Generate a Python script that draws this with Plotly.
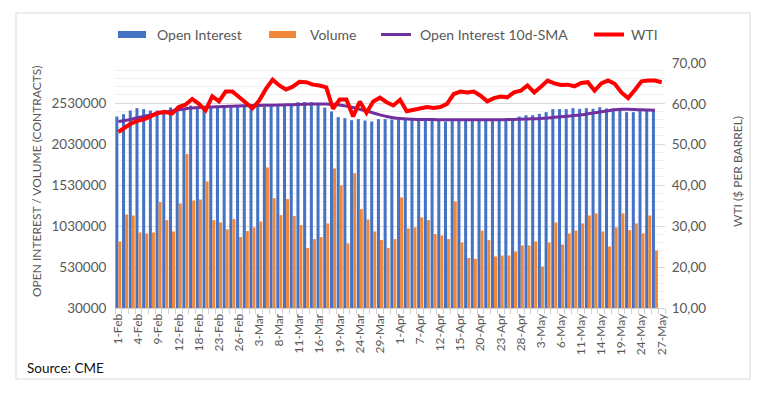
import plotly.graph_objects as go

# ---------------- data ----------------
dates = [
    "1-Feb", "2-Feb", "3-Feb", "4-Feb", "5-Feb", "8-Feb", "9-Feb", "10-Feb", "11-Feb", "12-Feb",
    "16-Feb", "17-Feb", "18-Feb", "19-Feb", "22-Feb", "23-Feb", "24-Feb", "25-Feb", "26-Feb",
    "1-Mar", "2-Mar", "3-Mar", "4-Mar", "5-Mar", "8-Mar", "9-Mar", "10-Mar", "11-Mar", "12-Mar",
    "15-Mar", "16-Mar", "17-Mar", "18-Mar", "19-Mar", "22-Mar", "23-Mar", "24-Mar", "25-Mar",
    "26-Mar", "29-Mar", "30-Mar", "31-Mar",
    "1-Apr", "5-Apr", "6-Apr", "7-Apr", "8-Apr", "9-Apr", "12-Apr", "13-Apr", "14-Apr", "15-Apr",
    "16-Apr", "19-Apr", "20-Apr", "21-Apr", "22-Apr", "23-Apr", "26-Apr", "27-Apr", "28-Apr",
    "29-Apr", "30-Apr",
    "3-May", "4-May", "5-May", "6-May", "7-May", "10-May", "11-May", "12-May", "13-May", "14-May",
    "17-May", "18-May", "19-May", "20-May", "21-May", "24-May", "25-May", "26-May", "27-May",
]

open_interest = [
    2367000, 2396000, 2440000, 2469000, 2457000, 2440000, 2440000, 2448000, 2476000, 2460000,
    2470000, 2501000, 2478000, 2470000, 2482000, 2478000, 2485000, 2480000, 2485000,
    2488000, 2484000, 2492000, 2488000, 2492000, 2496000, 2500000, 2505000, 2542000, 2544000,
    2542000, 2532000, 2476000, 2428000, 2360000, 2347000, 2322000, 2335000, 2318000,
    2306000, 2335000, 2335000, 2330000,
    2326000, 2326000, 2326000, 2326000, 2326000, 2326000, 2318000, 2306000, 2326000, 2326000,
    2326000, 2326000, 2326000, 2326000, 2326000, 2330000, 2335000, 2345000, 2367000,
    2383000, 2383000,
    2399000, 2420000, 2457000, 2457000, 2457000, 2469000, 2460000, 2469000, 2462000, 2481000,
    2465000, 2465000, 2465000, 2420000, 2420000, 2440000, 2440000, 2440000,
]

volume = [
    842000, 1171000, 1159000, 952000, 940000, 952000, 1323000, 1103000, 964000, 1306000,
    1908000, 1342000, 1354000, 1574000, 1103000, 1074000, 989000, 1115000, 896000,
    969000, 1013000, 1086000, 1745000, 1371000, 1164000, 1359000, 1152000, 1042000, 762000,
    871000, 896000, 1062000, 1732000, 1525000, 818000, 1676000, 1237000, 1110000,
    964000, 859000, 762000, 871000,
    1379000, 1001000, 1013000, 1135000, 1103000, 932000, 915000, 871000, 1330000, 830000,
    640000, 628000, 976000, 859000, 659000, 671000, 671000, 720000, 793000,
    793000, 842000,
    537000, 830000, 1074000, 805000, 940000, 976000, 1062000, 1159000, 1184000, 964000,
    781000, 1013000, 1184000, 981000, 1062000, 940000, 1159000, 732000,
]

oi_sma = [
    2306000, 2318000, 2335000, 2355000, 2372000, 2390000, 2405000, 2420000, 2435000, 2450000,
    2462000, 2470000, 2476000, 2480000, 2484000, 2487000, 2490000, 2493000, 2496000,
    2498000, 2500000, 2502000, 2504000, 2505000, 2507000, 2509000, 2512000, 2515000, 2518000,
    2520000, 2521000, 2520000, 2516000, 2508000, 2494000, 2476000, 2456000, 2436000,
    2410000, 2387000, 2368000, 2352000,
    2342000, 2336000, 2333000, 2331000, 2330000, 2329000, 2328000, 2328000, 2328000, 2328000,
    2327000, 2327000, 2327000, 2327000, 2327000, 2328000, 2329000, 2331000, 2334000,
    2337000, 2340000,
    2344000, 2350000, 2357000, 2364000, 2371000, 2378000, 2388000, 2400000, 2412000, 2425000,
    2438000, 2450000, 2456000, 2456000, 2452000, 2448000, 2445000, 2444000,
]

wti = [
    53.1, 54.3, 55.3, 55.9, 56.3, 57.1, 57.8, 58.0, 57.6, 59.2,
    59.8, 61.2, 60.0, 58.4, 61.85, 60.6, 63.0, 63.0, 61.6,
    60.15, 58.9, 60.8, 63.65, 65.9, 64.5, 63.5, 64.2, 65.4, 65.3,
    64.7, 64.5, 64.05, 58.8, 61.05, 61.05, 56.9, 60.55, 57.8,
    60.55, 61.5, 60.4, 59.6,
    61.0, 58.2, 58.6, 58.9, 59.2, 59.0, 59.2, 60.0, 62.4, 63.0,
    62.8, 63.0, 62.0, 60.6, 61.4, 61.8, 61.6, 62.8, 63.2,
    64.5, 62.8,
    64.2, 65.7, 65.0, 64.6, 64.7, 64.3, 65.1, 65.3, 63.2, 65.0,
    65.7, 64.9, 62.8, 61.4, 63.4, 65.5, 65.7, 65.7, 65.3,
]

left_ticks = [30000, 530000, 1030000, 1530000, 2030000, 2530000]
right_ticks = [10, 20, 30, 40, 50, 60, 70]
right_tick_text = ["10,00", "20,00", "30,00", "40,00", "50,00", "60,00", "70,00"]

# ---------------- layout helpers ----------------
# the page body has an 8px margin, so the figure is drawn 8px in from the window corner
OFF = 8
W, H = 767 - OFF, 394 - OFF
L, R, T, B = 115 - OFF, W - (665 - OFF), 63 - OFF, H - (308 - OFF)
PW, PH = W - L - R, H - T - B
FONT = "Lato"
GREY = "#595959"
CLEAR = "rgba(0,0,0,0)"


def xp(px):
    """window pixel x -> paper x"""
    return (px - OFF - L) / PW


def yp(py):
    """window pixel y -> paper y"""
    return (H - B - (py - OFF)) / PH


fig = go.Figure()
fig.add_trace(go.Bar(x=dates[:len(open_interest)], y=open_interest, name="Open Interest",
                     marker=dict(color="#4472C4", line=dict(width=0))))
fig.add_trace(go.Bar(x=dates[:len(volume)], y=volume, name="Volume",
                     marker=dict(color="#F0883A", line=dict(width=0))))
fig.add_trace(go.Scatter(x=dates[:len(oi_sma)], y=oi_sma, mode="lines",
                         name="Open Interest 10d-SMA",
                         line=dict(color="#7030A0", width=3, shape="spline")))
fig.add_trace(go.Scatter(x=dates, y=wti, mode="lines", name="WTI", yaxis="y2",
                         line=dict(color="#FF0000", width=4)))

ticktext = [d if i % 3 == 0 else "" for i, d in enumerate(dates)]

fig.update_layout(
    width=W, height=H,
    margin=dict(l=L, r=R, t=T, b=B, pad=0, autoexpand=False),
    paper_bgcolor="white", plot_bgcolor="white",
    showlegend=False,
    barmode="group", bargap=0.1, bargroupgap=0.0,
    font=dict(family=FONT, color=GREY, size=11),
    xaxis=dict(
        type="category", categoryorder="array", categoryarray=dates,
        range=[-0.5, len(dates) - 0.5],
        tickmode="array", tickvals=dates, ticktext=ticktext,
        tickangle=-90, tickson="boundaries",
        ticks="outside", ticklen=5, tickcolor="#d0d0d0",
        showline=True, linecolor="#d0d0d0", linewidth=1,
        showgrid=False, zeroline=False, automargin=False,
        tickfont=dict(family=FONT, size=12, color=GREY),
    ),
    yaxis=dict(
        range=[30000, 3020000],
        tickmode="array", tickvals=left_ticks, ticktext=[str(v) for v in left_ticks],
        showgrid=True, gridcolor="#d9d9d9", gridwidth=1,
        minor=dict(tick0=30000, dtick=100000, showgrid=True, gridcolor="#f0f0f0", gridwidth=1),
        zeroline=False, showline=False, automargin=False,
        ticks="outside", ticklen=5, tickcolor=CLEAR,
        tickfont=dict(family=FONT, size=13.5, color=GREY),
    ),
    yaxis2=dict(
        overlaying="y", side="right", range=[10, 70],
        tickmode="array", tickvals=right_ticks, ticktext=right_tick_text,
        showgrid=False, zeroline=False, showline=False, automargin=False,
        ticks="outside", ticklen=3, tickcolor=CLEAR,
        tickfont=dict(family=FONT, size=13.5, color=GREY),
    ),
)

shapes = []
annotations = []

# chart border
shapes.append(dict(type="rect", xref="paper", yref="paper",
                   x0=xp(16), x1=xp(750), y0=yp(379), y1=yp(13),
                   line=dict(color="#d9d9d9", width=1), fillcolor="rgba(0,0,0,0)", layer="below"))

# legend
ly = 34.5
shapes.append(dict(type="rect", xref="paper", yref="paper", x0=xp(118), x1=xp(146),
                   y0=yp(38), y1=yp(31), fillcolor="#4472C4", line=dict(width=0)))
shapes.append(dict(type="rect", xref="paper", yref="paper", x0=xp(269), x1=xp(296),
                   y0=yp(38), y1=yp(31), fillcolor="#F0883A", line=dict(width=0)))
shapes.append(dict(type="line", xref="paper", yref="paper", x0=xp(381), x1=xp(411),
                   y0=yp(ly), y1=yp(ly), line=dict(color="#7030A0", width=3)))
shapes.append(dict(type="line", xref="paper", yref="paper", x0=xp(594), x1=xp(624),
                   y0=yp(ly), y1=yp(ly), line=dict(color="#FF0000", width=4)))
for txt, px in [("Open Interest", 155), ("Volume", 308),
                ("Open Interest 10d-SMA", 418), ("WTI", 629)]:
    annotations.append(dict(text=txt, xref="paper", yref="paper", x=xp(px), y=yp(ly),
                            xanchor="left", yanchor="middle", showarrow=False,
                            font=dict(family=FONT, size=14, color=GREY)))

# axis titles
annotations.append(dict(text="OPEN INTEREST / VOLUME (CONTRACTS)", xref="paper", yref="paper",
                        x=xp(36), y=yp(181), textangle=-90, showarrow=False,
                        xanchor="center", yanchor="middle",
                        font=dict(family=FONT, size=12, color=GREY)))
annotations.append(dict(text="WTI ($ PER BARREL)", xref="paper", yref="paper",
                        x=xp(737), y=yp(172), textangle=-90, showarrow=False,
                        xanchor="center", yanchor="middle",
                        font=dict(family=FONT, size=12, color=GREY)))

# source
annotations.append(dict(text="Source: CME", xref="paper", yref="paper",
                        x=xp(25), y=yp(368), xanchor="left", yanchor="middle",
                        showarrow=False, font=dict(family=FONT, size=13.5, color="#111111")))

fig.update_layout(shapes=shapes, annotations=annotations)

fig.write_html("out.html")
